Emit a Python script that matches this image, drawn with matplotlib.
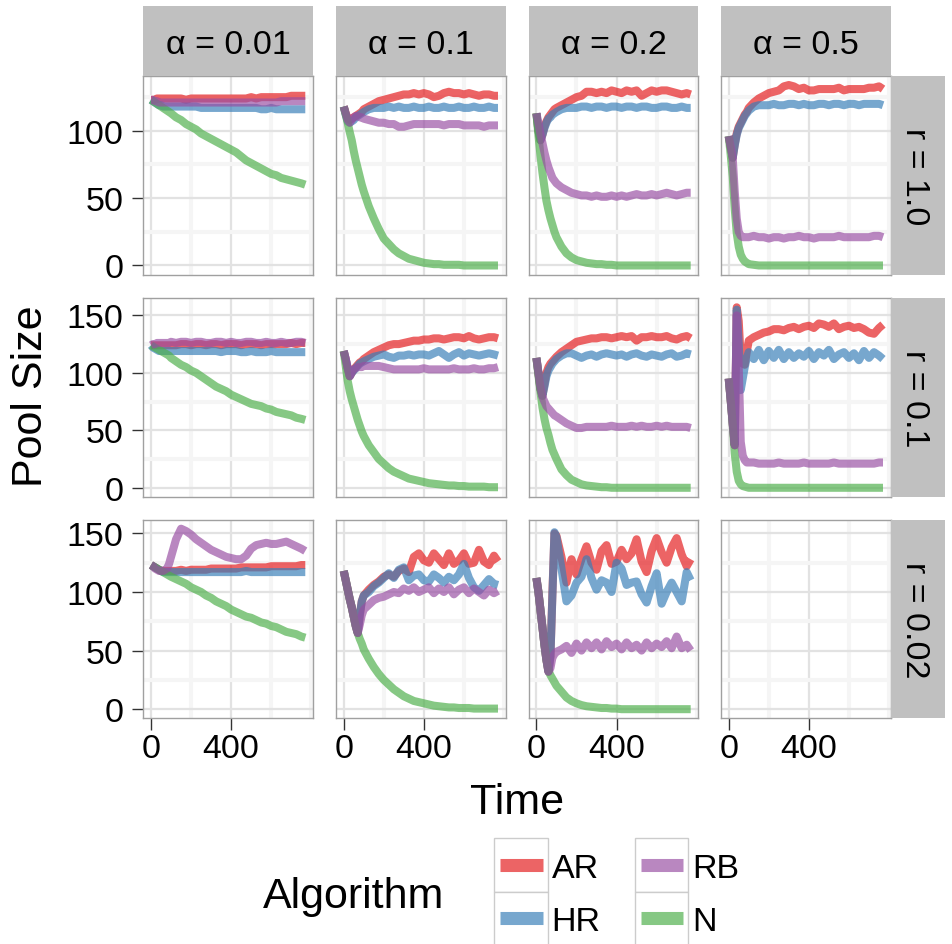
import matplotlib.pyplot as plt
from matplotlib.patches import Rectangle
from matplotlib.ticker import FixedLocator

plt.rcParams['font.family'] = ['Liberation Sans', 'DejaVu Sans']

# ---- data ----
TIME = [0, 10, 20, 30, 40, 50, 60, 70, 80, 90, 100,
        125, 150, 175, 200, 225, 250, 275, 300, 325, 350, 375, 400, 425, 450,
        475, 500, 525, 550, 575, 600, 625, 650, 675, 700, 725, 750, 770]

ALPHAS = ['0.01', '0.1', '0.2', '0.5']
RATES = ['1.0', '0.1', '0.02']
ALGOS = ['AR', 'HR', 'RB', 'N']
DRAW_ORDER = ['AR', 'HR', 'N', 'RB']

# r = 1.0
AR_R1_A001 = [123,123,123,124,124,124,124,124,124,124,124, 124,124,123,124,124,124,124,124,124,124,124,124,124,124,124,125,124,125,125,125,125,125,125,126,126,126, 126]
HR_R1_A001 = [123,122,121,120,119,119,118,118,118,118,118, 118,118,118,118,118,117,117,117,117,117,117,117,117,117,117,117,117,116,116,117,116,116,116,116,116,116, 116]
RB_R1_A001 = [123,123,122,122,121,121,121,121,121,121,121, 121,121,121,121,121,121,121,121,121,121,121,121,121,121,121,121,121,121,121,121,121,122,122,122,122,122, 122]
N_R1_A001 = [123,122,121,120,119,118,117,116,115,114,113, 110,108,105,103,101,98,96,94,92,90,88,86,84,81,78,76,74,72,70,68,67,65,64,63,62,61, 60]

AR_R1_A01 = [118,113,109,108,109,110,111,112,113,114,116, 118,120,122,123,124,125,126,127,127,128,127,128,127,125,126,128,129,128,128,127,128,127,126,127,127,126, 126]
HR_R1_A01 = [118,112,107,106,107,108,110,111,112,113,114, 116,117,117,117,118,117,118,117,117,118,117,117,118,117,117,118,117,117,118,117,117,118,117,117,118,117, 117]
RB_R1_A01 = [118,113,108,106,108,110,111,111,110,110,109, 108,107,106,106,105,105,103,103,104,105,105,105,105,105,105,104,105,105,105,104,104,104,104,103,104,104, 104]
N_R1_A01 = [118,112,106,99,93,85,78,72,66,60,55, 44,35,27,20,16,12,9,7,5,4,3,2,1.5,1,1,0.5,0.5,0.5,0.5,0,0,0,0,0,0,0, 0]

AR_R1_A02 = [113,100,93,97,103,107,110,112,114,116,117, 119,121,123,125,126,129,129,128,129,128,130,129,128,130,129,130,126,128,130,129,130,130,129,128,127,128, 127]
HR_R1_A02 = [113,100,93,97,102,106,109,110,112,113,114, 116,117,117,117,118,118,117,118,118,117,118,118,117,118,118,117,118,118,117,117,118,118,117,117,118,117, 117]
RB_R1_A02 = [113,106,98,91,84,78,73,69,65,63,61, 58,56,54,53,52,52,51,52,51,51,52,51,52,51,52,53,52,52,53,52,53,54,53,52,53,54, 54]
N_R1_A02 = [113,97,82,69,58,48,41,35,30,25,21, 14,9,6,4,3,2,1.5,1,1,0.5,0.5,0,0,0,0,0,0,0,0,0,0,0,0,0,0,0, 0]

AR_R1_A05 = [96,88,80,90,98,103,106,109,112,114,117, 121,124,126,128,129,130,133,134,133,131,132,130,130,131,131,131,131,132,130,131,131,131,131,132,132,133, 131]
HR_R1_A05 = [96,88,80,89,97,102,105,108,111,113,115, 118,119,119,119,120,119,119,120,120,119,120,119,119,120,120,119,120,120,119,120,120,119,120,120,120,120, 119]
RB_R1_A05 = [96,88,80,55,35,25,22,21,21,21,21, 22,21,21,20,21,21,20,21,21,22,21,21,20,21,21,21,21,22,21,21,21,21,21,21,22,22, 21]
N_R1_A05 = [96,82,66,42,24,14,8,5,3,2,1, 0.5,0,0,0,0,0,0,0,0,0,0,0,0,0,0,0,0,0,0,0,0,0,0,0,0,0, 0]

# r = 0.1
AR_R01_A001 = [124,124,124,124,124,124,124,124,124,124,124, 124,125,125,124,125,125,124,125,125,124,125,125,125,124,125,125,125,124,125,125,125,125,125,126,125,126, 126]
HR_R01_A001 = [124,122,121,120,119,119,119,119,119,119,119, 119,119,119,119,119,119,119,119,119,118,119,119,119,118,118,119,118,118,118,119,118,118,118,118,118,118, 118]
RB_R01_A001 = [124,125,125,126,126,126,126,126,126,126,127, 126,127,127,126,127,127,126,126,127,127,126,127,126,126,127,127,126,126,127,126,126,127,126,126,127,127, 126]
N_R01_A001 = [124,123,122,121,120,119,118,117,116,115,113, 110,107,105,102,100,97,94,91,88,86,84,81,79,77,75,73,72,71,69,68,66,65,64,63,61,60, 59]

AR_R01_A01 = [119,112,104,97,100,103,105,107,109,110,112, 115,118,120,122,124,125,125,126,127,128,128,129,129,130,130,129,130,131,131,130,132,130,129,130,131,131, 130]
HR_R01_A01 = [119,112,104,97,100,102,104,106,108,109,110, 112,114,115,116,114,113,115,115,116,115,116,116,115,117,119,116,113,116,118,115,117,116,115,116,117,116, 115]
RB_R01_A01 = [119,112,104,97,101,103,104,105,105,105,106, 106,106,106,105,104,103,103,103,103,103,103,104,103,103,103,103,103,104,103,103,103,104,103,103,104,104, 105]
N_R01_A01 = [119,106,93,84,77,71,65,59,54,49,45, 37,31,25,21,17,14,12,10,8,7,6,5,4,3.5,3,2.5,2,2,1.5,1.5,1,1,1,1,0.5,0.5, 0.5]

AR_R01_A02 = [113,100,86,80,90,100,105,108,110,112,114, 118,121,124,127,128,129,130,130,131,131,130,131,132,131,132,128,131,131,132,131,131,132,130,129,131,132, 130]
HR_R01_A02 = [113,100,86,80,88,97,102,105,108,110,112, 115,117,117,115,113,115,116,114,116,117,116,115,116,114,116,117,115,114,116,115,114,116,117,114,115,117, 116]
RB_R01_A02 = [113,100,88,79,75,71,69,67,65,63,62, 59,56,54,52,52,53,53,53,53,53,54,53,53,53,54,53,54,53,53,54,53,54,53,53,53,53, 52]
N_R01_A02 = [113,98,84,70,60,52,46,39,33,29,25, 16,11,7,5,3,2,1.5,1,0.5,0.5,0,0,0,0,0,0,0,0,0,0,0,0,0,0,0,0, 0]

AR_R01_A05 = [95,76,56,37,157,145,112,108,107,118,128, 131,133,135,136,138,138,137,139,140,138,140,141,139,143,142,140,143,138,140,141,139,140,138,135,134,139, 142]
HR_R01_A05 = [95,76,56,37,155,125,85,95,105,113,118, 112,120,111,119,113,120,112,118,113,117,114,119,112,118,115,120,112,116,118,113,117,111,119,113,118,115, 112]
RB_R01_A05 = [95,76,56,37,150,105,40,28,24,22,22, 22,21,21,21,21,22,21,21,21,21,22,21,21,21,21,21,22,21,21,21,21,21,21,21,21,22, 22]
N_R01_A05 = [95,76,56,30,14,6,3,1.5,1,0.5,0, 0,0,0,0,0,0,0,0,0,0,0,0,0,0,0,0,0,0,0,0,0,0,0,0,0,0, 0]

# r = 0.02
AR_R002_A001 = [123,122,121,120,119,118,118,118,118,118,118, 118,119,118,119,119,119,119,120,120,120,120,120,120,121,121,121,121,121,121,122,122,122,122,122,122,123, 123]
HR_R002_A001 = [123,122,121,120,119,118,117,117,117,117,117, 117,117,117,117,117,117,117,117,117,117,117,117,117,117,118,117,117,117,117,117,117,117,117,117,117,117, 117]
RB_R002_A001 = [123,122,120,119,118,118,118,119,120,124,130, 145,154,152,149,145,142,139,136,134,132,130,129,128,128,131,137,140,141,142,141,141,142,143,141,139,137, 135]
N_R002_A001 = [123,122,121,120,119,118,117,116,115,114,113, 111,109,107,104,102,100,97,95,92,90,88,85,83,81,79,78,76,74,73,71,70,68,66,65,64,62, 61]

AR_R002_A01 = [118,110,102,94,87,79,71,65,80,92,97, 102,106,109,113,115,113,118,120,117,130,133,127,125,133,128,123,133,124,127,133,124,125,136,126,123,131, 126]
HR_R002_A01 = [118,110,102,94,87,79,71,65,80,92,97, 100,105,108,112,116,112,119,121,110,114,115,110,109,115,112,108,113,110,115,124,112,104,101,106,111,107, 106]
RB_R002_A01 = [118,110,102,94,87,79,71,65,72,80,85, 89,93,95,96,98,100,99,103,101,104,100,102,104,99,103,100,104,98,102,104,99,103,100,97,102,99, 101]
N_R002_A01 = [118,110,102,94,87,79,71,65,60,56,51, 43,36,30,25,21,17,14,11,9,7,6,5,4,3,2.5,2,1.5,1.5,1,1,1,0.5,0.5,0.5,0.5,0.5, 0.5]

AR_R002_A02 = [112,100,85,70,55,42,32,45,100,150,148, 130,108,128,115,128,139,125,119,135,140,124,126,136,128,133,145,126,117,135,146,134,125,138,146,132,122, 128]
HR_R002_A02 = [112,100,85,70,55,42,32,45,98,151,147, 120,92,97,108,113,128,112,102,110,108,100,125,120,106,108,109,98,91,105,116,90,100,108,100,92,117, 110]
RB_R002_A02 = [112,100,85,70,55,42,32,35,44,47,49, 51,54,48,56,50,57,52,57,51,58,53,56,51,57,52,55,50,57,52,56,53,58,52,62,52,55, 50]
N_R002_A02 = [112,100,85,70,55,42,33,29,26,23,20, 15,10,7,5,3.5,2.5,2,1.5,1,1,0.5,0.5,0,0,0,0,0,0,0,0,0,0,0,0,0,0, 0]

PANELS = {
    ('1.0', '0.01'): [AR_R1_A001, HR_R1_A001, RB_R1_A001, N_R1_A001],
    ('1.0', '0.1'): [AR_R1_A01, HR_R1_A01, RB_R1_A01, N_R1_A01],
    ('1.0', '0.2'): [AR_R1_A02, HR_R1_A02, RB_R1_A02, N_R1_A02],
    ('1.0', '0.5'): [AR_R1_A05, HR_R1_A05, RB_R1_A05, N_R1_A05],
    ('0.1', '0.01'): [AR_R01_A001, HR_R01_A001, RB_R01_A001, N_R01_A001],
    ('0.1', '0.1'): [AR_R01_A01, HR_R01_A01, RB_R01_A01, N_R01_A01],
    ('0.1', '0.2'): [AR_R01_A02, HR_R01_A02, RB_R01_A02, N_R01_A02],
    ('0.1', '0.5'): [AR_R01_A05, HR_R01_A05, RB_R01_A05, N_R01_A05],
    ('0.02', '0.01'): [AR_R002_A001, HR_R002_A001, RB_R002_A001, N_R002_A001],
    ('0.02', '0.1'): [AR_R002_A01, HR_R002_A01, RB_R002_A01, N_R002_A01],
    ('0.02', '0.2'): [AR_R002_A02, HR_R002_A02, RB_R002_A02, N_R002_A02],
}

COLORS = {'AR': '#E41A1C', 'HR': '#377EB8', 'RB': '#984EA3', 'N': '#4DAF4A'}
ALPHA = 0.68

# ---- layout (pixels) ----
W, H = 952, 945
fig = plt.figure(figsize=(W / 100, H / 100), dpi=100)

COL_LEFT = [143.3, 336.0, 528.7, 721.0]
COL_W = 169.7
ROW_TOP = [77.0, 299.3, 520.7]
ROW_H = 198.5
STRIP_TOP = 7.3
STRIP_R_W = 54.3
TICK_FS = 24.5
TITLE_FS = 31


def px_axes(x, y, w, h):
    return fig.add_axes([x / W, 1 - (y + h) / H, w / W, h / H])


def expand(vals):
    lo, hi = min(vals), max(vals)
    pad = 0.05 * (hi - lo)
    return lo - pad, hi + pad


xlim = expand(TIME)

for i, r in enumerate(RATES):
    row_vals = [v for (rr, a), s in PANELS.items() if rr == r for ser in s for v in ser]
    ylim = expand(row_vals)
    for j, a in enumerate(ALPHAS):
        ax = px_axes(COL_LEFT[j], ROW_TOP[i], COL_W, ROW_H)
        ax.set_xlim(*xlim)
        ax.set_ylim(*ylim)
        ax.set_axisbelow(True)
        ax.xaxis.set_major_locator(FixedLocator([0, 400]))
        ax.xaxis.set_minor_locator(FixedLocator([200, 600, 800]))
        ax.yaxis.set_major_locator(FixedLocator([0, 50, 100, 150]))
        ax.yaxis.set_minor_locator(FixedLocator([25, 75, 125, 175]))
        ax.grid(True, which='minor', color='#F5F5F5', lw=3.0)
        ax.grid(True, which='major', color='#E2E2E2', lw=1.6)
        for sp in ax.spines.values():
            sp.set_color('#A0A0A0')
            sp.set_linewidth(1.0)
        ax.tick_params(which='minor', length=0)
        ax.tick_params(axis='y', which='major', length=7.7, width=1.0, color='#333333',
                       labelsize=TICK_FS, pad=6.5, labelleft=(j == 0))
        ax.tick_params(axis='x', which='major', length=8.4, width=1.0, color='#333333',
                       labelsize=TICK_FS, pad=2.5, labelbottom=(i == 2))
        if j != 0:
            ax.tick_params(axis='y', which='major', length=0)
        if i != 2:
            ax.tick_params(axis='x', which='major', length=0)

        series = PANELS.get((r, a))
        if series is not None:
            by_algo = dict(zip(ALGOS, series))
            for algo in DRAW_ORDER:
                ax.plot(TIME, by_algo[algo], color=COLORS[algo], alpha=ALPHA, lw=5.8,
                        solid_capstyle='butt', solid_joinstyle='round')

        # top strips
        if i == 0:
            sax = px_axes(COL_LEFT[j], STRIP_TOP, COL_W, ROW_TOP[0] - STRIP_TOP)
            sax.set_facecolor('#C0C0C0')
            sax.set_xticks([])
            sax.set_yticks([])
            for sp in sax.spines.values():
                sp.set_visible(False)
            sax.text(0.5, 0.5, 'α = ' + a, transform=sax.transAxes, fontsize=TICK_FS,
                     ha='center', va='center_baseline')

    # right strips
    rax = px_axes(COL_LEFT[3] + COL_W, ROW_TOP[i], STRIP_R_W, ROW_H)
    rax.set_facecolor('#C0C0C0')
    rax.set_xticks([])
    rax.set_yticks([])
    for sp in rax.spines.values():
        sp.set_visible(False)
    rax.text(0.5, 0.5, 'r = ' + r, transform=rax.transAxes, fontsize=TICK_FS,
             rotation=-90, ha='center', va='center_baseline', rotation_mode='anchor')

# ---- titles and legend in pixel space ----
over = fig.add_axes([0, 0, 1, 1], facecolor='none')
over.set_xlim(0, W)
over.set_ylim(H, 0)
over.axis('off')

over.text(41.7, 396.5, 'Pool Size', fontsize=TITLE_FS, rotation=90,
          ha='center', va='baseline', rotation_mode='anchor')
over.text(517, 814, 'Time', fontsize=TITLE_FS, ha='center', va='baseline')
over.text(263.3, 908, 'Algorithm', fontsize=TITLE_FS, ha='left', va='baseline')

KEY = 53.4
key_x = [494.3, 635.0]
key_y = [839.3, 839.3 + KEY]
for k, algo in enumerate(ALGOS):
    cx, ry = key_x[k // 2], key_y[k % 2]
    over.add_patch(Rectangle((cx, ry), KEY, KEY, facecolor='white',
                             edgecolor='#CCCCCC', lw=1.0, clip_on=False))
    over.plot([cx + 5.7, cx + KEY - 5], [ry + KEY / 2, ry + KEY / 2],
              color=COLORS[algo], alpha=ALPHA, lw=9.4, solid_capstyle='butt', clip_on=False)
    over.text(cx + KEY + 4, ry + KEY / 2, algo, fontsize=TICK_FS,
              ha='left', va='center_baseline')

fig.savefig('out.png', dpi=100)
